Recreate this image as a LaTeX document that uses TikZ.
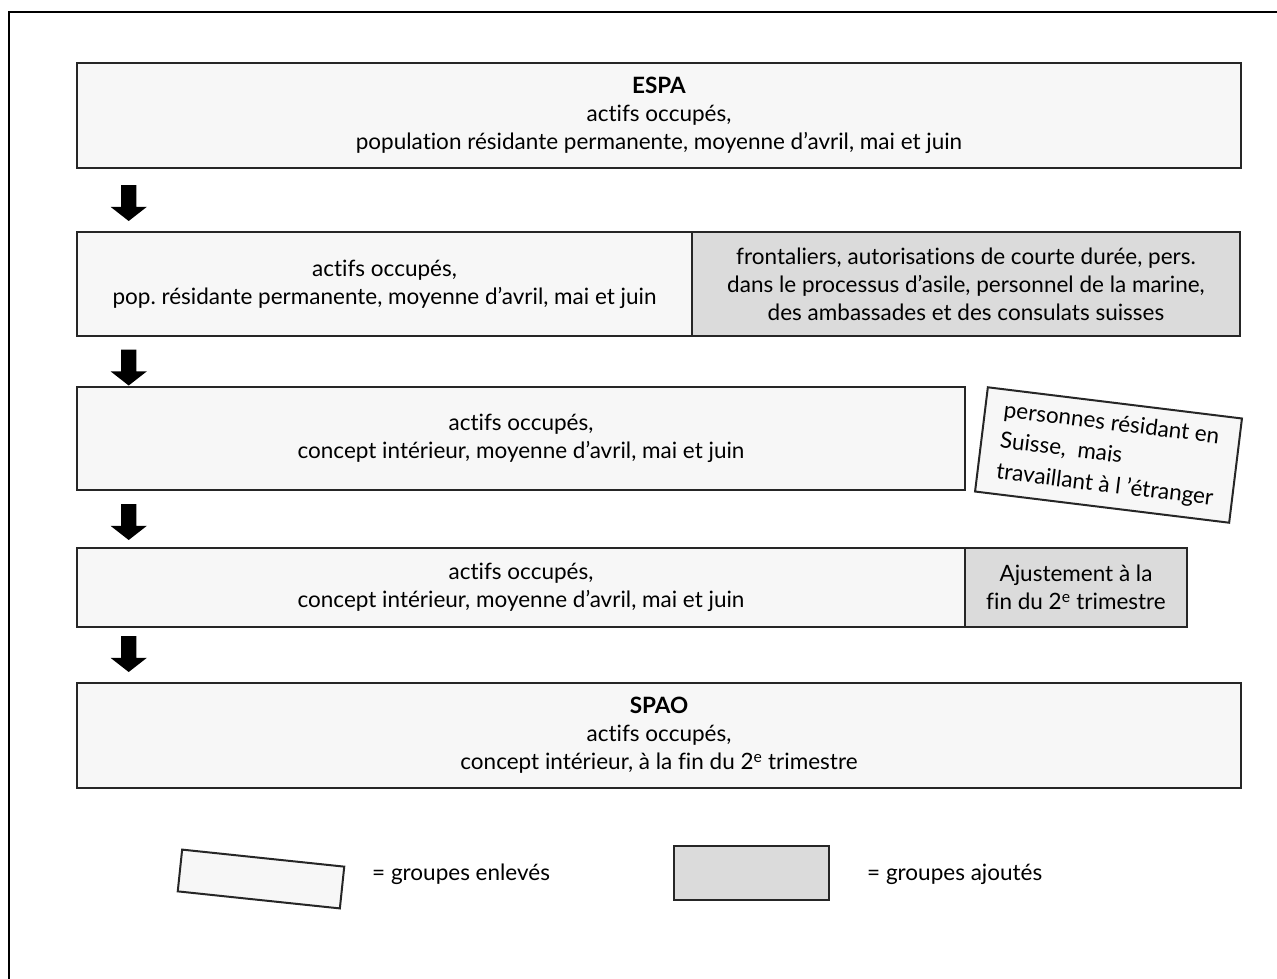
\documentclass[tikz,border=0pt]{standalone}
\usepackage{fontspec}
\setmainfont{Lato}[Ligatures=NoCommon]
\usetikzlibrary{shapes.arrows, positioning, calc}

\newcommand{\boxfont}{\fontsize{22.5}{28}\selectfont}
\newcommand{\tiltfont}{\fontsize{22.5}{31}\selectfont}

\begin{document}
\begin{tikzpicture}[
        x=1pt, y=-1pt,
        block/.style={draw=black!85, line width=2pt, fill=black!3, align=center, inner sep=0pt, outer sep=0pt, font=\boxfont, minimum height=104pt},
        addblock/.style={block, fill=black!14},
        downarr/.style={single arrow, shape border rotate=270, fill=black, minimum height=36pt, minimum width=36pt, single arrow head extend=10.5pt, single arrow tip angle=104, inner sep=7.5pt, outer sep=0pt},
        legtxt/.style={font=\boxfont, anchor=west, inner sep=0pt},
    ]
    \clip (0,0) rectangle (1277,979);

    % ====== Frame ======
    \draw[line width=2pt] (9,1000) |- (1300,12);

    % ====== Blocks ======
    \node[block, anchor=north west, minimum width=1164pt, minimum height=105pt] (espa) at (77,63)
        {\textbf{ESPA}\\actifs occupés,\\population résidante permanente, moyenne d’avril, mai et juin};

    \node[block, anchor=north west, minimum width=615pt] (pop) at (77,232)
        {actifs occupés,\\pop.\ résidante permanente, moyenne d’avril, mai et juin};
    \node[addblock, right=0pt of pop, minimum width=548pt] (cross)
        {frontaliers, autorisations de courte durée, pers.\\dans le processus d’asile, personnel de la marine,\\des ambassades et des consulats suisses};

    \node[block, anchor=north west, minimum width=888pt, minimum height=103pt] (interior) at (77,387)
        {actifs occupés,\\concept intérieur, moyenne d’avril, mai et juin};
    \node[block, align=left, font=\tiltfont, rotate=-7, minimum width=256pt, minimum height=105pt] (abroad) at (1108.5,455)
        {personnes résidant en\\Suisse,~ mais\\travaillant à l ’étranger};

    \node[block, anchor=north west, minimum width=888pt, minimum height=79pt] (average) at (77,548)
        {actifs occupés,\\concept intérieur, moyenne d’avril, mai et juin};
    \node[addblock, right=0pt of average, minimum width=222pt, minimum height=79pt] (adjust)
        {Ajustement à la\\fin du 2\textsuperscript{e} trimestre};

    \node[block, anchor=north west, minimum width=1164pt, minimum height=105pt] (spao) at (77,683)
        {\textbf{SPAO}\\actifs occupés,\\concept intérieur, à la fin du 2\textsuperscript{e} trimestre};

    % ====== Arrows ======
    \node[downarr] (a1) at ($(espa.south west)!0.5!(pop.north west)+(51.7,0)$) {};
    \node[downarr] (a2) at ($(pop.south west)!0.5!(interior.north west)+(51.7,3)$) {};
    \node[downarr] (a3) at ($(interior.south west)!0.5!(average.north west)+(51.7,0)$) {};
    \node[downarr] (a4) at ($(average.south west)!0.5!(spao.north west)+(51.7,-4)$) {};

    % ====== Legend ======
    \node[block, rotate=-6, minimum width=163pt, minimum height=42pt] (lremoved) at (261,879) {};
    \node[legtxt] (lremovedtxt) at (372,874) {= groupes enlevés};
    \node[addblock, anchor=north west, minimum width=155pt, minimum height=54pt] (ladded) at (674,846) {};
    \node[legtxt] (laddedtxt) at (867,874) {= groupes ajoutés};
\end{tikzpicture}
\end{document}
